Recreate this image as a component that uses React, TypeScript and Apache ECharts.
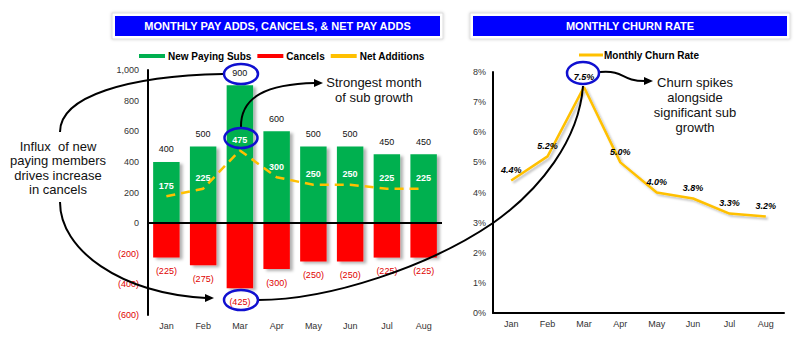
import React, { useEffect, useRef } from "react";
import * as echarts from "echarts";

const months = ["Jan", "Feb", "Mar", "Apr", "May", "Jun", "Jul", "Aug"];
const newSubs = [400, 500, 900, 600, 500, 500, 450, 450];
const cancels = [-225, -275, -425, -300, -250, -250, -225, -225];
const netAdds = [175, 225, 475, 300, 250, 250, 225, 225];
const churn = [4.4, 5.2, 7.5, 5.0, 4.0, 3.8, 3.3, 3.2];

const FONT = "Arial, 'Liberation Sans', sans-serif";
const GREEN = "#00B050";
const RED = "#FF0000";
const YELLOW = "#FFC000";
const BLUE = "#0000FF";

export default function App() {
  const ref = useRef<HTMLDivElement>(null);
  useEffect(() => {
    if (!ref.current) return;
    const chart = echarts.init(ref.current, undefined, { renderer: "svg" });
    const shadow = {
      shadowColor: "rgba(0,0,0,0.3)",
      shadowBlur: 3,
      shadowOffsetX: 3,
      shadowOffsetY: 2,
    };
    const curve = { stroke: "#000", lineWidth: 2, fill: null as any };
    const ell = { fill: "transparent", stroke: "#1010D0", lineWidth: 2.5 };
    const option: any = {
      animation: false,
      backgroundColor: "#fff",
      textStyle: { fontFamily: FONT },
      legend: [
        {
          left: 134,
          top: 46,
          itemWidth: 26,
          itemHeight: 4,
          itemGap: 6,
          icon: "rect",
          textStyle: { fontFamily: FONT, fontSize: 10, fontWeight: "bold", color: "#000", padding: [0, 0, 0, -2] },
          data: [
            { name: "New Paying Subs", itemStyle: { color: GREEN } },
            { name: "Cancels", itemStyle: { color: RED } },
            { name: "Net Additions", itemStyle: { color: YELLOW } },
          ],
        },
        {
          left: 574,
          top: 45,
          itemWidth: 24,
          itemHeight: 3,
          icon: "rect",
          textStyle: { fontFamily: FONT, fontSize: 10, fontWeight: "bold", color: "#000", padding: [0, 0, 0, -4] },
          data: [{ name: "Monthly Churn Rate", itemStyle: { color: YELLOW } }],
        },
      ],
      grid: [
        { left: 148, top: 70, width: 294, height: 245 },
        { left: 493, top: 72, width: 291, height: 241 },
      ],
      xAxis: [
        {
          gridIndex: 0,
          type: "category",
          data: months,
          axisLine: { show: false },
          axisTick: { show: false },
          axisLabel: { margin: 6, fontSize: 9, color: "#333", fontFamily: FONT },
        },
        {
          gridIndex: 1,
          type: "category",
          data: months,
          axisLine: { show: true, lineStyle: { color: "#000", width: 2 } },
          axisTick: { show: false },
          axisLabel: { margin: 6, fontSize: 9, color: "#333", fontFamily: FONT },
        },
      ],
      yAxis: [
        {
          gridIndex: 0,
          type: "value",
          min: -600,
          max: 1000,
          interval: 200,
          splitLine: { show: false },
          axisLine: { show: true, lineStyle: { color: "#000", width: 2 } },
          axisTick: { show: false },
          axisLabel: {
            margin: 9,
            fontSize: 9,
            fontFamily: FONT,
            color: (v: any) => (Number(v) < 0 ? "#E00000" : "#333"),
            formatter: (v: number) => (v < 0 ? `(${-v})` : v >= 1000 ? "1,000" : `${v}`),
          },
        },
        {
          gridIndex: 1,
          type: "value",
          min: 0,
          max: 8,
          interval: 1,
          splitLine: { show: false },
          axisLine: { show: true, lineStyle: { color: "#000", width: 2 } },
          axisTick: { show: false },
          axisLabel: { margin: 7, fontSize: 9, fontFamily: FONT, color: "#333", formatter: (v: number) => `${v}%` },
        },
      ],
      series: [
        {
          name: "New Paying Subs",
          type: "bar",
          stack: "a",
          xAxisIndex: 0,
          yAxisIndex: 0,
          barWidth: "72%",
          data: newSubs,
          itemStyle: { color: GREEN, ...shadow },
          label: { show: true, position: "top", distance: 8, fontSize: 9, color: "#111", fontFamily: FONT },
          markLine: {
            silent: true,
            symbol: "none",
            label: { show: false },
            lineStyle: { color: "#000", width: 2, type: "solid" },
            data: [{ yAxis: 0 }],
          },
        },
        {
          name: "Cancels",
          type: "bar",
          stack: "a",
          xAxisIndex: 0,
          yAxisIndex: 0,
          barWidth: "72%",
          data: cancels,
          itemStyle: { color: RED, ...shadow },
          label: {
            show: true,
            position: "bottom",
            distance: 9,
            fontSize: 9,
            color: "#E00000",
            fontFamily: FONT,
            formatter: (p: any) => `(${-p.value})`,
          },
        },
        {
          name: "Net Additions",
          type: "line",
          xAxisIndex: 0,
          yAxisIndex: 0,
          data: netAdds,
          symbol: "circle",
          symbolSize: 0,
          showSymbol: true,
          z: 5,
          lineStyle: { color: YELLOW, width: 2.5, type: [9, 6] },
          itemStyle: { color: YELLOW },
          label: {
            show: true,
            position: "top",
            distance: 6,
            fontSize: 9,
            fontWeight: "bold",
            color: "#fff",
            fontFamily: FONT,
          },
        },
        {
          name: "Monthly Churn Rate",
          type: "line",
          xAxisIndex: 1,
          yAxisIndex: 1,
          data: churn,
          symbol: "circle",
          symbolSize: 0,
          showSymbol: true,
          lineStyle: { color: YELLOW, width: 2.5, shadowColor: "rgba(0,0,0,0.25)", shadowBlur: 2, shadowOffsetX: 2, shadowOffsetY: 2 },
          itemStyle: { color: YELLOW },
          label: {
            show: true,
            position: "top",
            distance: 6,
            fontSize: 9,
            fontWeight: "bold",
            fontStyle: "italic",
            color: "#000",
            fontFamily: FONT,
            formatter: (p: any) => `${p.value.toFixed(1)}%`,
          },
        },
      ],
      graphic: [
        // titles
        { type: "rect", shape: { x: 112, y: 13, width: 331, height: 26 }, style: { fill: "#fff", stroke: "#ddd", lineWidth: 1, shadowColor: "rgba(0,0,0,0.2)", shadowBlur: 3 }, z: 10 },
        { type: "rect", shape: { x: 115, y: 16, width: 325, height: 20 }, style: { fill: BLUE }, z: 11 },
        { type: "text", x: 277.5, y: 26, style: { text: "MONTHLY PAY ADDS, CANCELS, & NET PAY ADDS", fill: "#fff", font: `bold 11px ${FONT}`, align: "center", verticalAlign: "middle" }, z: 12 },
        { type: "rect", shape: { x: 470, y: 13, width: 320, height: 26 }, style: { fill: "#fff", stroke: "#ddd", lineWidth: 1, shadowColor: "rgba(0,0,0,0.2)", shadowBlur: 3 }, z: 10 },
        { type: "rect", shape: { x: 473, y: 16, width: 314, height: 20 }, style: { fill: BLUE }, z: 11 },
        { type: "text", x: 630, y: 26, style: { text: "MONTHLY CHURN RATE", fill: "#fff", font: `bold 11px ${FONT}`, align: "center", verticalAlign: "middle" }, z: 12 },
        // big left arc
        { type: "bezierCurve", shape: { x1: 223, y1: 74, cpx1: 128, cpy1: 76, cpx2: 60, cpy2: 96, x2: 60, y2: 132 }, style: curve, z: 20 },
        { type: "bezierCurve", shape: { x1: 60, y1: 202, cpx1: 60, cpy1: 250, cpx2: 120, cpy2: 293, x2: 206, y2: 298 }, style: curve, z: 20 },
        { type: "polygon", shape: { points: [[205, 294], [214, 298], [205, 302]] }, style: { fill: "#000" }, z: 20 },
        {
          type: "text",
          x: 58,
          y: 168,
          style: {
            text: "Influx  of new\npaying members\ndrives increase\nin cancels",
            fill: "#111",
            font: `13px ${FONT}`,
            align: "center",
            verticalAlign: "middle",
            lineHeight: 14.5,
          },
          z: 20,
        },
        // strongest month arrow
        { type: "bezierCurve", shape: { x1: 241, y1: 128, cpx1: 240, cpy1: 96, cpx2: 268, cpy2: 84, x2: 315, y2: 83 }, style: curve, z: 20 },
        { type: "polygon", shape: { points: [[314, 79], [323, 83], [314, 87]] }, style: { fill: "#000" }, z: 20 },
        {
          type: "text",
          x: 374,
          y: 90,
          style: { text: "Strongest month\nof sub growth", fill: "#111", font: `13px ${FONT}`, align: "center", verticalAlign: "middle", lineHeight: 15 },
          z: 20,
        },
        // long arc (425) -> 7.5%
        { type: "bezierCurve", shape: { x1: 258, y1: 300, cpx1: 330, cpy1: 300, cpx2: 430, cpy2: 266, x2: 493, y2: 223 }, style: curve, z: 20 },
        { type: "bezierCurve", shape: { x1: 493, y1: 223, cpx1: 540, cpy1: 190, cpx2: 579, cpy2: 140, x2: 583, y2: 86 }, style: curve, z: 20 },
        // churn arrow
        { type: "bezierCurve", shape: { x1: 600, y1: 72, cpx1: 626, cpy1: 70, cpx2: 620, cpy2: 81, x2: 645, y2: 81 }, style: curve, z: 20 },
        { type: "polygon", shape: { points: [[644, 77], [653, 81], [644, 85]] }, style: { fill: "#000" }, z: 20 },
        {
          type: "text",
          x: 695,
          y: 105,
          style: {
            text: "Churn spikes\nalongside\nsignificant sub\ngrowth",
            fill: "#111",
            font: `13px ${FONT}`,
            align: "center",
            verticalAlign: "middle",
            lineHeight: 15,
          },
          z: 20,
        },
        // ellipses
        { type: "ellipse", shape: { cx: 241, cy: 74, rx: 17, ry: 10 }, style: ell, z: 21 },
        { type: "ellipse", shape: { cx: 241, cy: 138, rx: 16.5, ry: 10 }, style: ell, z: 21 },
        { type: "ellipse", shape: { cx: 241, cy: 300, rx: 17, ry: 10 }, style: ell, z: 21 },
        { type: "ellipse", shape: { cx: 583, cy: 73, rx: 16, ry: 11 }, style: ell, z: 21 },
      ],
    };
    chart.setOption(option);
    return () => chart.dispose();
  }, []);
  return <div ref={ref} style={{ width: 800, height: 341, position: "absolute", left: 0, top: 0 }} />;
}
